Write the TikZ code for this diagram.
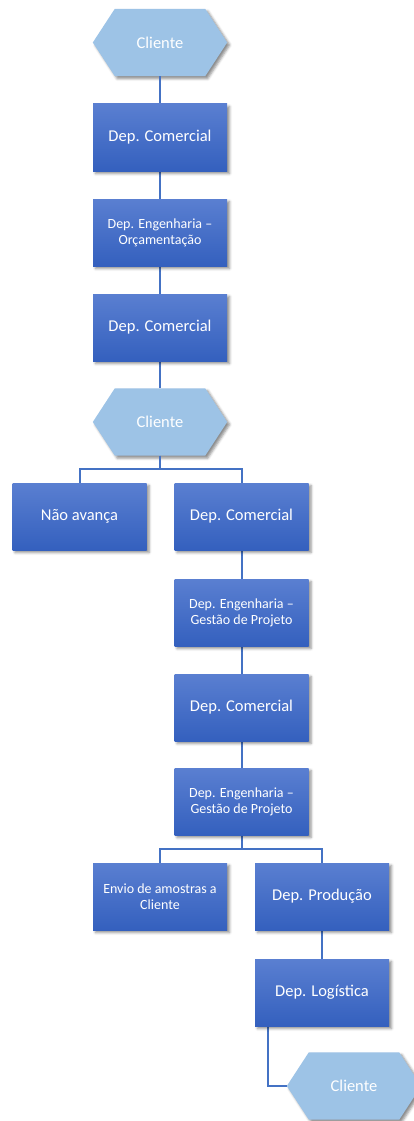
\documentclass[tikz,border=0pt]{standalone}
\usepackage{fontspec}
\setmainfont{Carlito}
\usetikzlibrary{shadows.blur,backgrounds}
\definecolor{boxtop}{HTML}{5A7FD1}
\definecolor{boxbot}{HTML}{3460BE}
\definecolor{hexblue}{HTML}{9DC3E6}
\definecolor{linkblue}{HTML}{4472C4}
\tikzset{
  softshadow/.style={blur shadow={shadow xshift=2.5pt, shadow yshift=-2.5pt,
      shadow blur radius=2.5pt, shadow opacity=45}},
  dept/.style={minimum width=134pt, minimum height=67pt, inner sep=0pt,
      top color=boxtop, bottom color=boxbot, text=white, align=center,
      font=\fontsize{16.5}{19}\selectfont, softshadow},
  twoline/.style={font=\fontsize{14}{16}\selectfont},
  hexlabel/.style={minimum width=134pt, minimum height=67pt, inner sep=0pt,
      text=white, font=\fontsize{16.5}{19}\selectfont},
  hexbody/.style={fill=hexblue, softshadow},
  link/.style={draw=linkblue, line width=2pt},
}
% hexagonal client marker drawn behind a label node
\newcommand\clienthex[1]{%
  \fill[hexbody] (#1.west) -- ([xshift=22pt]#1.north west)
    -- ([xshift=-22pt]#1.north east) -- (#1.east)
    -- ([xshift=-22pt]#1.south east) -- ([xshift=22pt]#1.south west) -- cycle;}
\begin{document}
\begin{tikzpicture}[x=1pt,y=-1pt]
\useasboundingbox (0,0) rectangle (414,1121);

% main column
\node[hexlabel] (c1) at (160,42.5) {Cliente};
\node[dept] (com1) at (160,137.5) {Dep. Comercial};
\node[dept,twoline] (eng1) at (160,232.5) {Dep. Engenharia –\\Orçamentação};
\node[dept] (com2) at (160,327.5) {Dep. Comercial};
\node[hexlabel] (c2) at (160,422) {Cliente};

% first branch
\node[dept] (nao) at (79.5,516.5) {Não avança};
\node[dept] (com3) at (241.5,516.5) {Dep. Comercial};
\node[dept,twoline] (eng2) at (241.5,612.5) {Dep. Engenharia –\\Gestão de Projeto};
\node[dept] (com4) at (241.5,707.5) {Dep. Comercial};
\node[dept,twoline] (eng3) at (241.5,801.5) {Dep. Engenharia –\\Gestão de Projeto};

% second branch
\node[dept,twoline] (envio) at (160,896.5) {Envio de amostras a\\Cliente};
\node[dept] (prod) at (322,896.5) {Dep. Produção};
\node[dept] (logi) at (322,992.5) {Dep. Logística};
\node[hexlabel] (c3) at (354,1086) {Cliente};

\begin{scope}[on background layer]
  \clienthex{c1}
  \clienthex{c2}
  \clienthex{c3}
  \draw[link] (c1.south) -- (com1.north);
  \draw[link] (com1.south) -- (eng1.north);
  \draw[link] (eng1.south) -- (com2.north);
  \draw[link] (com2.south) -- (c2.north);
  \draw[link] (c2.south) -- ++(0,13.5) -| (nao.north);
  \draw[link] (c2.south) -- ++(0,13.5) -| (com3.north);
  \draw[link] (com3.south) -- (eng2.north);
  \draw[link] (eng2.south) -- (com4.north);
  \draw[link] (com4.south) -- (eng3.north);
  \draw[link] (eng3.south) -- ++(0,14) -| (envio.north);
  \draw[link] (eng3.south) -- ++(0,14) -| (prod.north);
  \draw[link] (prod.south) -- (logi.north);
  \draw[link] ([xshift=13pt]logi.south west) |- (c3.west);
\end{scope}
\end{tikzpicture}
\end{document}
